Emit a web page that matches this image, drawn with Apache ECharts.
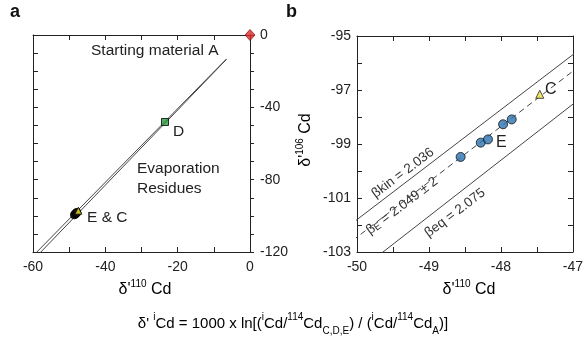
<!DOCTYPE html>
<html><head><meta charset="utf-8">
<script src="https://cdn.jsdelivr.net/npm/echarts@6/dist/echarts.min.js"></script>
<style>html,body{margin:0;padding:0;background:#fff}#c{width:586px;height:340px}</style>
</head><body><div id="c"></div>
<script>
// ---- data ----
var betaNames = ['βkin', 'βE', 'βeq'];
var betaValues = [2.036, 2.049, 2.075];
var lineXRangeA = [-6.5, -62];     // δ'110Cd extent of fractionation lines in panel a
var lineXRangeB = [-50.5, -46.5];  // extent in panel b
var startA = [[0, 0]];             // starting material A
var pointD = [[-23.5, -48.1]];
var pointsE_x = [-48.56, -48.28, -48.18, -47.97, -47.85];
var pointsE_y = [-99.48, -98.95, -98.83, -98.27, -98.09];
var pointC = [[-47.46, -97.16]];
var ticksA_x = [-60, -40, -20, 0];
var ticksA_y = [-120, -80, -40, 0];
var ticksB_x = [-50, -49, -48, -47];
var ticksB_y = [-103, -101, -99, -97, -95];

var pointsE = pointsE_x.map(function (x, i) { return [x, pointsE_y[i]]; });
function betaLine(b, range) { return range.map(function (x) { return [x, b * x]; }); }
function first(a) { return a[0]; }
function last(a) { return a[a.length - 1]; }

var FONT = '"Liberation Sans", Arial, sans-serif';
var chart = echarts.init(document.getElementById('c'));

function mkAxis(gridIndex, pos, ticks, minorSplit, showLabel, labelMargin, inside, len) {
  return {
    type: 'value', gridIndex: gridIndex, position: pos, min: first(ticks), max: last(ticks),
    interval: ticks[1] - ticks[0],
    axisLine: {show: true, onZero: false, lineStyle: {color: '#222', width: 1}},
    axisTick: {show: true, inside: inside, length: len || 5, lineStyle: {color: '#222', width: 1}},
    minorTick: {show: true, splitNumber: minorSplit, length: len || 5, lineStyle: {color: '#222', width: 1}},
    splitLine: {show: false}, minorSplitLine: {show: false},
    axisLabel: {show: showLabel, color: '#222', fontSize: 14, fontFamily: FONT, margin: labelMargin || 8}
  };
}

var series = [];
[0, 2].forEach(function (i) {
  series.push({type: 'line', xAxisIndex: 0, yAxisIndex: 0, data: betaLine(betaValues[i], lineXRangeA),
    symbol: 'none', lineStyle: {color: '#444', width: 1}, silent: true, clip: true});
});
betaValues.forEach(function (b, i) {
  series.push({type: 'line', xAxisIndex: 2, yAxisIndex: 2, data: betaLine(b, lineXRangeB),
    symbol: 'none', lineStyle: {color: '#444', width: 1, type: i === 1 ? [6, 4] : 'solid'}, silent: true, clip: true});
});
series.push({type: 'scatter', xAxisIndex: 0, yAxisIndex: 0, data: pointsE, symbol: 'circle', symbolSize: 8,
  itemStyle: {color: '#111', borderColor: '#000', borderWidth: 1}, z: 5});
series.push({type: 'scatter', xAxisIndex: 0, yAxisIndex: 0, data: pointC, symbol: 'triangle', symbolSize: 7,
  itemStyle: {color: '#f0e020', borderColor: '#000', borderWidth: 1}, z: 6});
series.push({type: 'scatter', xAxisIndex: 0, yAxisIndex: 0, data: pointD, symbol: 'rect', symbolSize: 7,
  itemStyle: {color: '#2e9a3e', borderColor: '#000', borderWidth: 1}, z: 6});
series.push({type: 'scatter', xAxisIndex: 0, yAxisIndex: 0, data: startA, symbol: 'diamond', symbolSize: [10, 11],
  itemStyle: {color: '#e02828', borderColor: '#600', borderWidth: 0.8}, z: 12, clip: false});
series.push({type: 'scatter', xAxisIndex: 2, yAxisIndex: 2, data: pointsE, symbol: 'circle', symbolSize: 9,
  itemStyle: {color: '#2a72b0', borderColor: '#111', borderWidth: 1}, z: 5});
series.push({type: 'scatter', xAxisIndex: 2, yAxisIndex: 2, data: pointC, symbol: 'triangle', symbolSize: 8,
  itemStyle: {color: '#eee040', borderColor: '#222', borderWidth: 1}, z: 5});

var sup = {fontSize: 10, fontFamily: FONT, color: '#222', verticalAlign: 'top', lineHeight: 22};
var base = {fontSize: 16, fontFamily: FONT, color: '#222', lineHeight: 22};
var sub = {fontSize: 10, fontFamily: FONT, color: '#222', verticalAlign: 'bottom', lineHeight: 24};
var fbase = {fontSize: 15, fontFamily: FONT, color: '#222', lineHeight: 22};

var ang = 37 * Math.PI / 180;
var lb = {fontSize: 13.5, fontFamily: FONT, fill: '#333'};
var option = {
  animation: false,
  backgroundColor: '#fff',
  grid: [
    {left: 33, top: 35, width: 217, height: 217},
    {left: 33, top: 35, width: 217, height: 217},
    {left: 357, top: 36, width: 216, height: 216},
    {left: 357, top: 36, width: 216, height: 216}
  ],
  xAxis: [
    mkAxis(0, 'bottom', [-60, -40, -20, 0], 2, true, 8, true),
    mkAxis(1, 'top', [-60, -40, -20, 0], 2, false, 8, true),
    mkAxis(2, 'bottom', ticksB_x, 2, true, 8, true),
    mkAxis(3, 'top', ticksB_x, 2, false, 8, true)
  ],
  yAxis: [
    mkAxis(0, 'right', ticksA_y, 4, true, 10, false, 4),
    mkAxis(1, 'left', ticksA_y, 4, false, 8, true),
    mkAxis(2, 'left', [-103, -101, -99, -97, -95], 2, true, 6, true),
    mkAxis(3, 'right', [-103, -101, -99, -97, -95], 2, false, 8, true)
  ],
  series: series,
  graphic: [
    {type: 'text', left: 10, top: 3, style: {text: 'a', font: 'bold 18px ' + FONT, fill: '#111'}},
    {type: 'text', left: 286, top: 3, style: {text: 'b', font: 'bold 18px ' + FONT, fill: '#111'}},
    {type: 'text', left: 91, top: 43, style: {text: 'Starting material A', font: '15.5px ' + FONT, fill: '#222'}},
    {type: 'text', left: 173, top: 124, style: {text: 'D', font: '15.5px ' + FONT, fill: '#222'}},
    {type: 'text', left: 137, top: 159, style: {text: 'Evaporation\nResidues', font: '15.5px ' + FONT, fill: '#222', lineHeight: 20}},
    {type: 'text', left: 87, top: 210, style: {text: 'E & C', font: '15.5px ' + FONT, fill: '#222'}},
    {type: 'text', x: 545, y: 82, style: {text: 'C', font: '16px ' + FONT, fill: '#222'}},
    {type: 'text', x: 496, y: 135, style: {text: 'E', font: '16px ' + FONT, fill: '#222'}},
    {type: 'text', x: 403, y: 173, rotation: ang, style: {text: '{b|β}{b|kin = 2.036}', align: 'center', verticalAlign: 'middle',
      rich: {b: lb}}},
    {type: 'text', x: 402, y: 206, rotation: ang, style: {text: '{b|β}{s|E}{b| = 2.049 ± 2}', align: 'center', verticalAlign: 'middle',
      rich: {b: lb, s: {fontSize: 10, fontFamily: FONT, fill: '#333', verticalAlign: 'bottom'}}}},
    {type: 'text', x: 455, y: 213, rotation: ang, style: {text: '{b|β}{b|eq = 2.075}', align: 'center', verticalAlign: 'middle',
      rich: {b: lb}}},
    {type: 'text', x: 145, y: 290, style: {text: "{b|δ'}{s|110}{b| Cd}", align: 'center', verticalAlign: 'middle',
      rich: {b: base, s: sup}}},
    {type: 'text', x: 469, y: 290, style: {text: "{b|δ'}{s|110}{b| Cd}", align: 'center', verticalAlign: 'middle',
      rich: {b: base, s: sup}}},
    {type: 'text', x: 306, y: 140, rotation: Math.PI / 2, style: {text: "{b|δ'}{s|106}{b| Cd}", align: 'center', verticalAlign: 'middle',
      rich: {b: base, s: sup}}},
    {type: 'text', x: 293, y: 324, style: {
      text: "{b|δ' }{s|i}{b|Cd = 1000 x ln[(}{s|i}{b|Cd/}{s|114}{b|Cd}{u|C,D,E}{b|) / (}{s|i}{b|Cd/}{s|114}{b|Cd}{u|A}{b|)]}",
      align: 'center', verticalAlign: 'middle', rich: {b: fbase, s: sup, u: sub}}}
  ]
};
chart.setOption(option);
</script>
</body></html>
